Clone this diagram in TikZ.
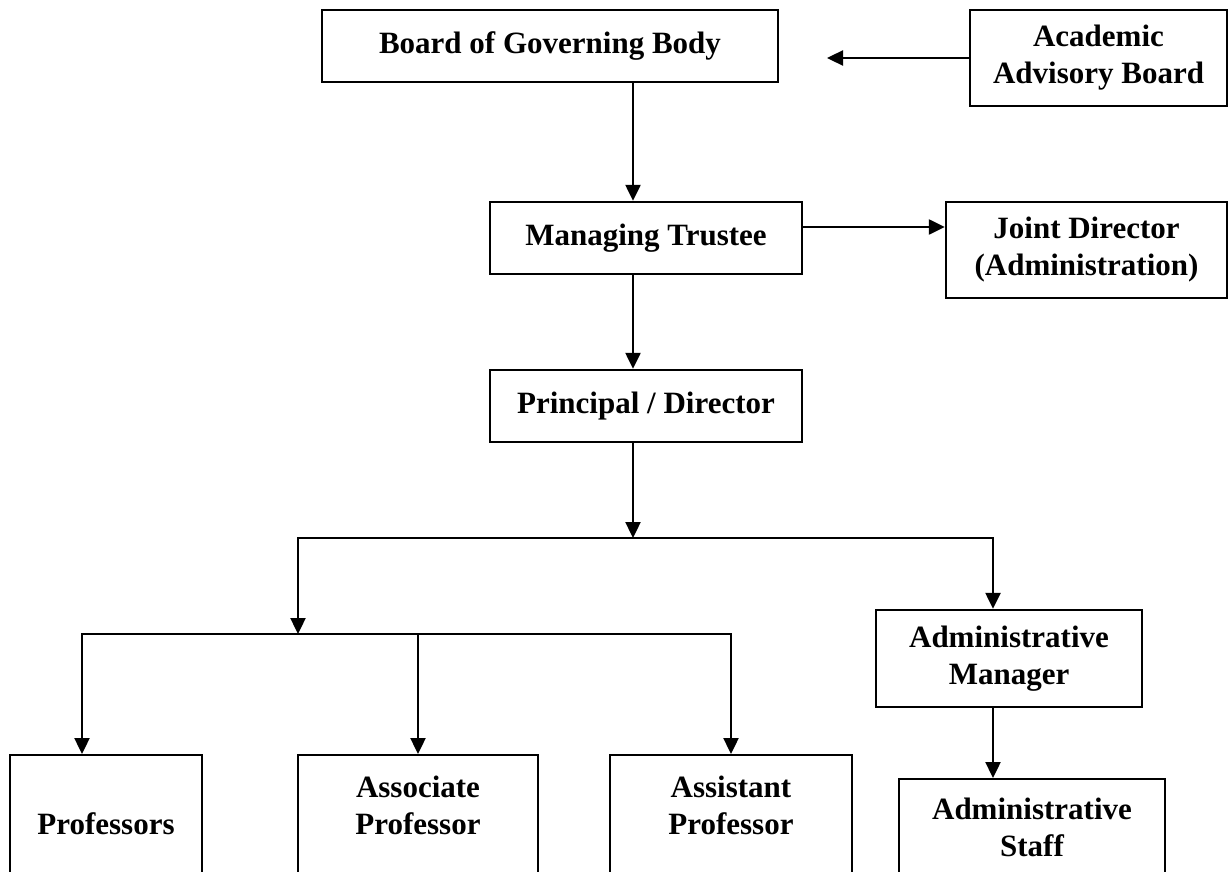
\documentclass[tikz,border=0pt]{standalone}
\usepackage{fontspec}
\setmainfont{Liberation Serif}
\usetikzlibrary{arrows.meta}

\begin{document}
\begin{tikzpicture}[x=1pt, y=-1pt,
  box/.style={draw, rectangle, line width=2.4pt, inner sep=0pt, align=center,
    font=\fontsize{31}{37}\selectfont\bfseries},
  cutbox/.style={box, anchor=north, inner ysep=57pt, text height=22pt, text depth=140pt},
  arr/.style={line width=2.4pt, -{Triangle[length=16pt, width=15pt]}},
  link/.style={line width=2.4pt, line cap=rect}]
\useasboundingbox (0,0) rectangle (1229,872);
\clip (0,0) rectangle (1229,872);

\node[box, minimum width=456pt, minimum height=72pt] (board) at (550,46) {Board of Governing Body};
\node[box, minimum width=257pt, minimum height=96pt] (advisory) at (1098.5,58) {Academic\\Advisory Board};
\node[box, minimum width=312pt, minimum height=72pt] (trustee) at (646,238) {Managing Trustee};
\node[box, minimum width=281pt, minimum height=96pt] (joint) at (1086.5,250) {Joint Director\\(Administration)};
\node[box, minimum width=312pt, minimum height=72pt] (principal) at (646,406) {Principal / Director};
\node[box, minimum width=266pt, minimum height=97pt] (manager) at (1009,658.5) {Administrative\\Manager};

% bottom row, cut off by the page edge
\node[cutbox, minimum width=192pt] (prof) at (106,754) {Professors};
\node[cutbox, minimum width=240pt] (assoc) at (418,754) {Associate\\Professor};
\node[cutbox, minimum width=242pt] (asst) at (731,754) {Assistant\\Professor};
\node[cutbox, inner ysep=55pt, minimum width=266pt] (staff) at (1032,778) {Administrative\\Staff};

\coordinate (axis) at (633,0);
\coordinate (jrow) at (0,227);
\coordinate (tip) at (827,58);
\coordinate (split) at (633,538);
\coordinate (lbranch) at (298,538);
\coordinate (rbranch) at (993,538);
\coordinate (fork) at (298,634);
\coordinate (pbranch) at (82,634);

\draw[arr] (advisory.west) -- (tip);
\draw[arr] (board.south -| axis) -- (trustee.north -| axis);
\draw[arr] (trustee.east |- jrow) -- (joint.west |- jrow);
\draw[arr] (trustee.south -| axis) -- (principal.north -| axis);
\draw[arr] (principal.south -| axis) -- (split);

\draw[link] (lbranch) -- (rbranch);
\draw[arr] (lbranch) -- (fork);
\draw[arr] (rbranch) -- (manager.north -| rbranch);

\draw[link] (pbranch) -- (asst.north |- fork);
\draw[arr] (pbranch) -- (prof.north -| pbranch);
\draw[arr] (assoc.north |- fork) -- (assoc.north);
\draw[arr] (asst.north |- fork) -- (asst.north);
\draw[arr] (manager.south -| rbranch) -- (staff.north -| rbranch);
\end{tikzpicture}
\end{document}
